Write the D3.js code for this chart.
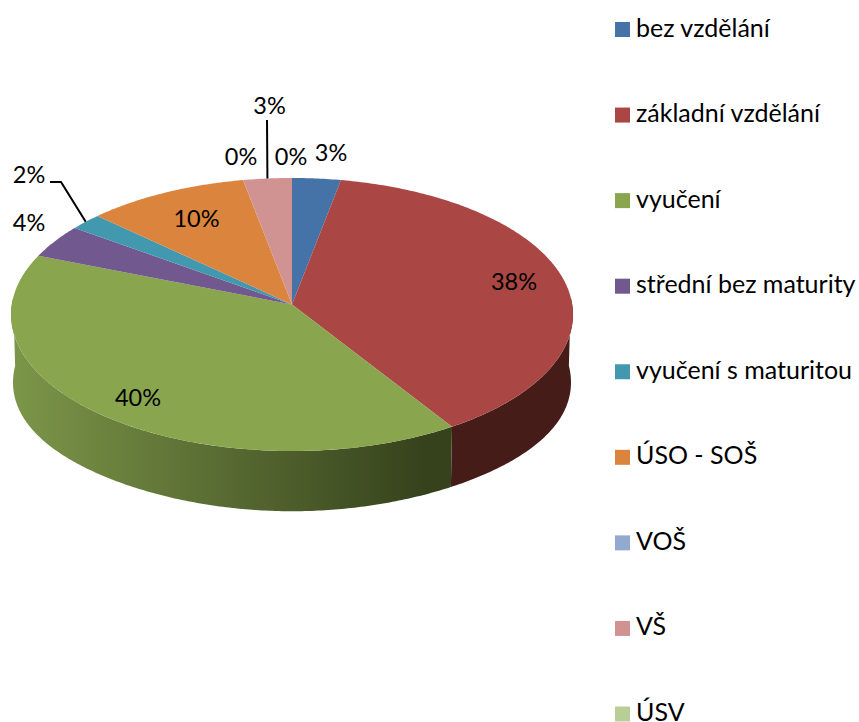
<!DOCTYPE html>
<html>
<head>
<meta charset="utf-8">
<script src="https://cdnjs.cloudflare.com/ajax/libs/d3/7.8.5/d3.min.js"></script>
<style>
    html, body { margin: 0; padding: 0; background: #fff; }
    svg { display: block; }
    text { font-family: Lato, "Open Sans", sans-serif; fill: #000; }
</style>
</head>
<body>
<svg id="chart" width="859" height="722"></svg>
<script>
    var categories = ['bez vzdělání', 'základní vzdělání', 'vyučení', 'střední bez maturity',
            'vyučení s maturitou', 'ÚSO - SOŠ', 'VOŠ', 'VŠ', 'ÚSV'],
        shares = [3, 38, 40, 4, 2, 10, 0, 3, 0],
        colors = ['#4572a7', '#aa4643', '#89a54e', '#71588f', '#4198af', '#db843d', '#93a9cf', '#d19392', '#b9cd96'];

    // Data labels were hand placed in the original, so they keep their own spots
    var labelSpots = [[331, 153], [514, 282], [138, 398], [29, 223], [29, 175], [196.5, 219], [241, 157], [269.5, 106], [291, 157]],
        leaderFrom = {4: [[50, 182], [61, 182]], 7: [[267, 120]]};

    var CX = 292,
        CY = 304.5,
        RX = 280.2,
        RY = 135.8,
        PERSPECTIVE = 0.0732,
        DEPTH = 60,
        SIDE_BULGE = 8,
        LABEL_SIZE = 23.5,
        LEGEND_SIZE = 25;

    var svg = d3.select('#chart');

    var pie = d3.pie().sort(null).value(d => d);
    var slices = pie(shares);

    // Circle to screen, the far edge shrinks a bit
    var project = function(angle, r) {
        var u = r * Math.sin(angle),
            v = -r * Math.cos(angle),
            w = 1 - PERSPECTIVE * v;
        return [CX + RX * u / w, CY + RY * v / w];
    };

    // Lower edge of the rim, it hangs a little deeper towards the sides
    var sunk = function(p) {
        var v = (p[1] - CY) / RY,
            side = 1 - v * v;
        return [CX + (p[0] - CX) * 0.993, p[1] + DEPTH + SIDE_BULGE * side * side];
    };

    var arcPoints = function(a0, a1) {
        var n = Math.max(2, Math.ceil((a1 - a0) * 90));
        return d3.range(n + 1).map(i => project(a0 + (a1 - a0) * i / n, 1));
    };

    var line = d3.line();

    var defs = svg.append('defs');
    var wallFill = defs.append('linearGradient')
        .attr('id', 'wall-green')
        .attr('gradientUnits', 'userSpaceOnUse')
        .attr('x1', 11).attr('x2', 425).attr('y1', 0).attr('y2', 0);
    wallFill.append('stop').attr('offset', 0).attr('stop-color', '#7c9649');
    wallFill.append('stop').attr('offset', 1).attr('stop-color', '#36421c');

    // Only the front part of the rim shows
    var FRONT_START = Math.PI / 2 - 0.05,
        FRONT_END = Math.PI * 1.5 + 0.05;

    svg.append('g').selectAll('path')
        .data(slices.filter(d => d.endAngle > FRONT_START && d.startAngle < FRONT_END && d.value > 0))
        .join('path')
        .attr('d', d => {
            var top = arcPoints(Math.max(d.startAngle, FRONT_START), Math.min(d.endAngle, FRONT_END));
            return line(top.concat(top.map(sunk).reverse())) + 'Z';
        })
        .attr('fill', d => d.index === 2 ? 'url(#wall-green)' : '#461c19');

    svg.append('g').selectAll('path')
        .data(slices.filter(d => d.value > 0))
        .join('path')
        .attr('d', d => line([[CX, CY]].concat(arcPoints(d.startAngle, d.endAngle))) + 'Z')
        .attr('fill', d => colors[d.index]);

    var midAngle = d => (d.startAngle + d.endAngle) / 2;

    svg.append('g').selectAll('path')
        .data(slices.filter(d => leaderFrom[d.index]))
        .join('path')
        .attr('d', d => line(leaderFrom[d.index].concat([project(midAngle(d), 1)])))
        .attr('fill', 'none')
        .attr('stroke', '#000')
        .attr('stroke-width', 2);

    svg.append('g').selectAll('text')
        .data(slices)
        .join('text')
        .attr('x', d => labelSpots[d.index][0])
        .attr('y', d => labelSpots[d.index][1])
        .attr('dy', '0.35em')
        .attr('text-anchor', 'middle')
        .attr('font-size', LABEL_SIZE)
        .text(d => d.value + '%');

    var legendY = d3.scalePoint()
        .domain(categories)
        .range([29.5, 714]);

    var legend = svg.append('g').selectAll('g')
        .data(categories)
        .join('g')
        .attr('transform', d => `translate(615, ${legendY(d)})`);

    legend.append('rect')
        .attr('y', -7.5)
        .attr('width', 15)
        .attr('height', 15)
        .attr('fill', (d, i) => colors[i]);

    legend.append('text')
        .attr('x', 21)
        .attr('y', 7)
        .attr('font-size', LEGEND_SIZE)
        .text(d => d);
</script>
</body>
</html>
